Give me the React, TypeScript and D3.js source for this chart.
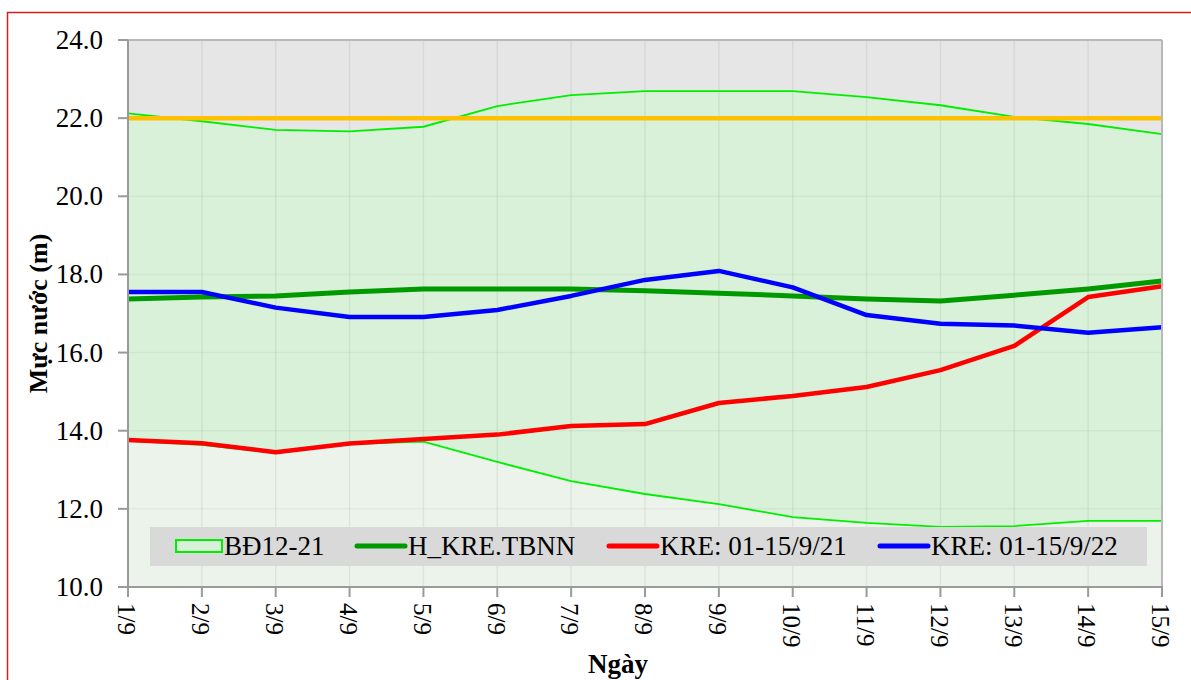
import React from "react";
import * as d3 from "d3";

// days 1/9 .. 15/9
const days: string[] = ["1/9", "2/9", "3/9", "4/9", "5/9", "6/9", "7/9", "8/9", "9/9", "10/9", "11/9", "12/9", "13/9", "14/9", "15/9"];

// BĐ12-21 band (max / min of 2012-2021)
const bandMax: number[] = [22.12, 21.92, 21.70, 21.66, 21.78, 22.31, 22.59, 22.69, 22.69, 22.69, 22.54, 22.33, 22.03, 21.85, 21.59];
const bandMin: number[] = [13.74, 13.64, 13.43, 13.66, 13.72, 13.2, 12.71, 12.38, 12.12, 11.79, 11.64, 11.54, 11.56, 11.69, 11.69];

// H_KRE.TBNN
const tbnn: number[] = [17.37, 17.42, 17.45, 17.55, 17.63, 17.63, 17.63, 17.58, 17.52, 17.45, 17.37, 17.32, 17.47, 17.63, 17.83];
// KRE: 01-15/9/21
const kre21: number[] = [13.76, 13.68, 13.45, 13.67, 13.79, 13.9, 14.12, 14.17, 14.71, 14.89, 15.12, 15.55, 16.17, 17.42, 17.70];
// KRE: 01-15/9/22
const kre22: number[] = [17.55, 17.55, 17.15, 16.91, 16.91, 17.09, 17.45, 17.86, 18.09, 17.67, 16.96, 16.74, 16.69, 16.51, 16.65];

const mnDbt = 22.0; // orange reference line
const yTicks: number[] = [10, 12, 14, 16, 18, 20, 22, 24];

const legendItems = [
  { label: "BĐ12-21", kind: "box", color: "#00ee00" },
  { label: "H_KRE.TBNN", kind: "line", color: "#009a00" },
  { label: "KRE: 01-15/9/21", kind: "line", color: "#ff0000" },
  { label: "KRE: 01-15/9/22", kind: "line", color: "#0000ff" },
];

const W = 1191;
const H = 680;
const margin = { top: 40, right: 29, bottom: 93, left: 128 };
const font = "'Liberation Serif', 'Times New Roman', serif";

export default function App() {
  const x = d3.scalePoint<string>().domain(days).range([margin.left, W - margin.right]);
  const y = d3.scaleLinear().domain([10, 24]).range([H - margin.bottom, margin.top]);
  const x0 = margin.left, x1 = W - margin.right, y0 = margin.top, y1 = H - margin.bottom;

  const area = (vals: number[]) =>
    d3.area<number>().x((_, i) => x(days[i])!).y0(y1).y1(d => y(d))(vals) || "";
  const line = (vals: number[]) =>
    d3.line<number>().x((_, i) => x(days[i])!).y(d => y(d))(vals) || "";

  const legendX = [176, 357, 609, 880];

  return (
    <svg width={W} height={H} style={{ position: "absolute", left: 0, top: 0, background: "#fff" }} fontFamily={font}>
      <rect x={7.5} y={12.5} width={1250} height={720} fill="#fff" stroke="#d42020" strokeWidth={1.5} />

      <rect x={x0} y={y0} width={x1 - x0} height={y1 - y0} fill="#e6e6e6" />
      <path d={area(bandMax)} fill="#d8f1d8" />
      <path d={area(bandMin)} fill="#ebf3eb" />

      {/* faint grid */}
      {days.map(d => (
        <line key={d} x1={x(d)} x2={x(d)} y1={y0} y2={y1} stroke="#000" strokeOpacity={0.06} strokeWidth={1.5} />
      ))}
      {yTicks.map(t => (
        <line key={t} x1={x0} x2={x1} y1={y(t)} y2={y(t)} stroke="#000" strokeOpacity={0.04} strokeWidth={1.5} />
      ))}

      <path d={line(bandMax)} fill="none" stroke="#00ee00" strokeWidth={1.8} />
      <path d={line(bandMin)} fill="none" stroke="#00ee00" strokeWidth={1.8} />

      <line x1={x0} x2={x1} y1={y(mnDbt)} y2={y(mnDbt)} stroke="#ffc000" strokeWidth={4.5} />

      <path d={line(tbnn)} fill="none" stroke="#009a00" strokeWidth={5} strokeLinejoin="round" />
      <path d={line(kre21)} fill="none" stroke="#ff0000" strokeWidth={4.5} strokeLinejoin="round" />
      <path d={line(kre22)} fill="none" stroke="#0000ff" strokeWidth={4.5} strokeLinejoin="round" />

      {/* frame */}
      <line x1={x0} x2={x1} y1={y0} y2={y0} stroke="#b8b8b8" strokeWidth={2} />
      <line x1={x1} x2={x1} y1={y0} y2={y1} stroke="#b8b8b8" strokeWidth={2} />
      <line x1={x0} x2={x0} y1={y0} y2={y1 + 1} stroke="#9a9a9a" strokeWidth={2} />
      <line x1={x0 - 1} x2={x1 + 1} y1={y1} y2={y1} stroke="#9a9a9a" strokeWidth={2} />

      {/* legend */}
      <rect x={150} y={527} width={997} height={39} fill="#d9d9d9" />
      {legendItems.map((it, i) => (
        <g key={it.label}>
          {it.kind === "box" ? (
            <rect x={legendX[i]} y={540} width={46} height={12} fill="#d8f1d8" stroke={it.color} strokeWidth={2} />
          ) : (
            <line x1={legendX[i]} x2={legendX[i] + 48} y1={546} y2={546} stroke={it.color} strokeWidth={5} strokeLinecap="round" />
          )}
          <text x={legendX[i] + (it.kind === "box" ? 48 : 51)} y={555} fontSize={27} fill="#000">{it.label}</text>
        </g>
      ))}

      {/* y axis */}
      {yTicks.map(t => (
        <g key={t}>
          <line x1={x0 - 10} x2={x0} y1={y(t)} y2={y(t)} stroke="#9a9a9a" strokeWidth={2} />
          <text x={103} y={y(t) + 9} textAnchor="end" fontSize={27} fill="#000">{t.toFixed(1)}</text>
        </g>
      ))}
      <text transform={`translate(47,${(y0 + y1) / 2}) rotate(-90)`} textAnchor="middle" fontSize={26} fontWeight="bold" fill="#000">
        Mực nước (m)
      </text>

      {/* x axis */}
      {days.map(d => (
        <g key={d}>
          <line x1={x(d)} x2={x(d)} y1={y1} y2={y1 + 10} stroke="#9a9a9a" strokeWidth={2} />
          <text transform={`translate(${x(d)! - 1},603) rotate(90)`} dy="0.35em" fontSize={25} fill="#000">{d}</text>
        </g>
      ))}
      <text x={618} y={673} textAnchor="middle" fontSize={27} fontWeight="bold" fill="#000">Ngày</text>
    </svg>
  );
}
